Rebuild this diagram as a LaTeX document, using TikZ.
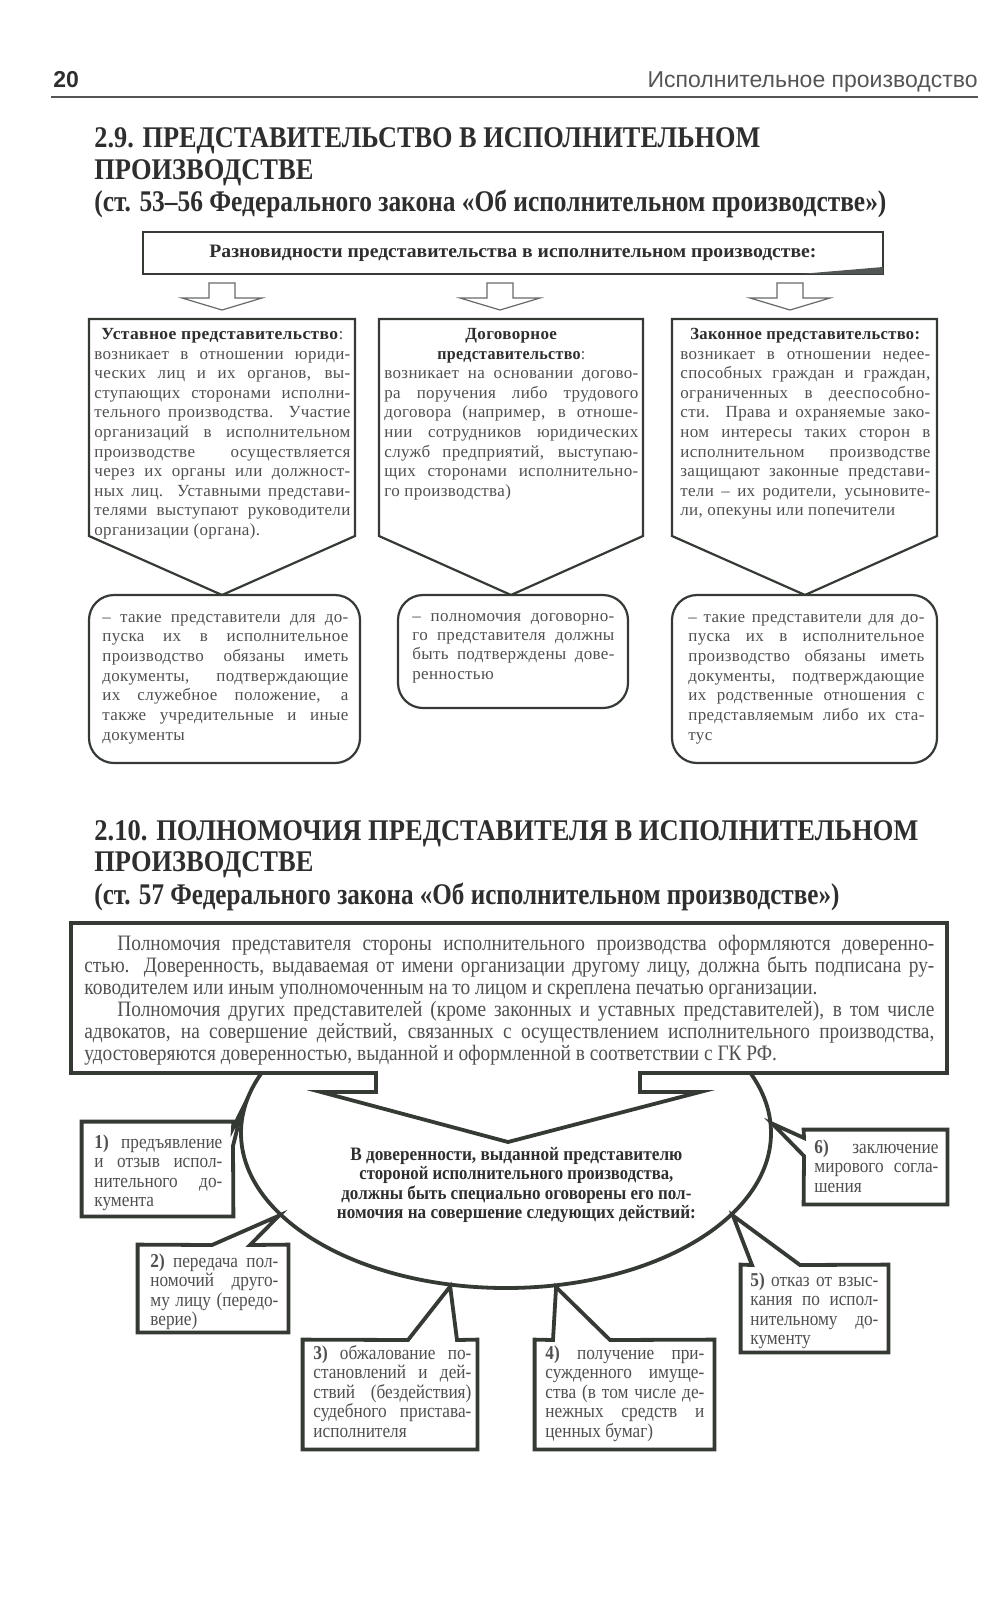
\documentclass[tikz,border=0pt]{standalone}
\usepackage{fontspec}
\usepackage{graphicx}
\setmainfont{Liberation Serif}
\setsansfont{Liberation Sans}
\newfontfamily\condfont[FakeStretch=0.82]{Liberation Serif}
\newfontfamily\lowfont[FakeStretch=0.88]{Liberation Serif}
\newfontfamily\bodyfont[LetterSpace=2]{Liberation Serif}
\usetikzlibrary{shapes.geometric}
\definecolor{lc}{HTML}{353A35}
\definecolor{tc}{HTML}{2E2E2E}
\definecolor{bc}{HTML}{505050}
\definecolor{hc}{HTML}{555555}
\newdimen\lw
\newcommand\J[1]{\hbox to\lw{#1}}
\newcommand\N[1]{\hbox{#1}}
\newcommand\C[1]{\hbox to\lw{\hfil#1\hfil}}
\newcommand\I[1]{\hbox to\lw{\hskip16.5pt\relax#1}}
\newcommand\fitw[2]{\resizebox{#1}{\height}{#2}}
\newcommand\tstack[3]{\vtop{\hsize=#1\relax\lw=#1\relax\baselineskip=#2\relax\lineskiplimit=-30pt\relax#3}}
\tikzset{
  thinbox/.style={draw=lc, line width=1.1pt, fill=white, line join=miter},
  thickbox/.style={draw=lc, line width=1.9pt, fill=white, line join=miter},
  txt/.style={inner sep=0pt, anchor=base west, text=bc},
  uptext/.style={txt, font=\bodyfont\fontsize{8.5}{9.8}\selectfont},
  lowtext/.style={txt, font=\lowfont\fontsize{9.8}{9.75}\selectfont},
  titletext/.style={txt, text=tc, font=\bfseries\fontsize{15}{15}\selectfont},
  blockarrow/.style={draw=lc!75, line width=0.6pt, fill=white},
}
\begin{document}
\begin{tikzpicture}[x=0.5pt,y=-0.5pt]
\useasboundingbox (0,0) rectangle (1000,1600);
\fill[white] (0,0) rectangle (1000,1600);

% running head
\node[inner sep=0, anchor=base west, text=tc, font=\sffamily\bfseries\fontsize{11.5}{12}\selectfont] (pnum) at (53,88) {20};
\node[inner sep=0, anchor=base east, text=hc, font=\sffamily\fontsize{11.5}{12}\selectfont] (runhead) at (978,88) {Исполнительное производство};
\draw[hc, line width=0.7pt] (51,97) -- (978,97);

% title 2.9
\node[titletext] (t1a) at (94,148) {\fitw{333pt}{2.9. ПРЕДСТАВИТЕЛЬСТВО В ИСПОЛНИТЕЛЬНОМ}};
\node[titletext] (t1b) at (94,179) {\fitw{109.5pt}{ПРОИЗВОДСТВЕ}};
\node[titletext] (t1c) at (94,211) {\fitw{396pt}{(ст. 53–56 Федерального закона «Об исполнительном производстве»)}};

% kinds box
\node[thinbox, minimum width=370pt, minimum height=21pt, inner sep=0, text=tc, font=\bfseries\fontsize{9.5}{10}\selectfont] (kinds) at (513,253) {\fitw{303.5pt}{Разновидности представительства в исполнительном производстве:}};
\fill[lc!85] (800,274) -- (883,267) -- (883,274) -- cycle;

\foreach \cx in {222,500,790}
  \draw[blockarrow] (\cx-13,283) -- (\cx+13,283) -- (\cx+13,298) -- (\cx+40,298) -- (\cx,310) -- (\cx-40,298) -- (\cx-13,298) -- cycle;

% pentagons
\draw[thinbox] (89,319) -- (355,319) -- (355,536) -- (222,595) -- (89,536) -- cycle;
\draw[thinbox] (379,319) -- (643,319) -- (643,536) -- (511,595) -- (379,536) -- cycle;
\draw[thinbox] (672,319) -- (937,319) -- (937,536) -- (805,595) -- (672,536) -- cycle;

\node[uptext] (p1) at (94,339.5) {\tstack{128pt}{9.8pt}{%
\C{\fitw{121pt}{\textcolor{tc}{\textbf{Уставное представительство}}:}}
\J{возникает в отношении юриди-}
\J{ческих лиц и их органов, вы-}
\J{ступающих сторонами исполни-}
\J{тельного производства. Участие}
\J{организаций в исполнительном}
\J{производстве осуществляется}
\J{через их органы или должност-}
\J{ных лиц. Уставными представи-}
\J{телями выступают руководители}
\N{организации (органа).}}};

\node[uptext] (p2) at (384,339.5) {\tstack{127pt}{9.8pt}{%
\C{\fitw{46pt}{\textcolor{tc}{\textbf{Договорное}}}}
\C{\fitw{74pt}{\textcolor{tc}{\textbf{представительство}}:}}
\J{возникает на основании догово-}
\J{ра поручения либо трудового}
\J{договора (например, в отноше-}
\J{нии сотрудников юридических}
\J{служб предприятий, выступаю-}
\J{щих сторонами исполнительно-}
\N{го производства)}}};

\node[uptext] (p3) at (680,339.5) {\tstack{125pt}{9.8pt}{%
\C{\fitw{115pt}{\textcolor{tc}{\textbf{Законное представительство:}}}}
\J{возникает в отношении недее-}
\J{способных граждан и граждан,}
\J{ограниченных в дееспособно-}
\J{сти. Права и охраняемые зако-}
\J{ном интересы таких сторон в}
\J{исполнительном производстве}
\J{защищают законные представи-}
\J{тели – их родители, усыновите-}
\N{ли, опекуны или попечители}}};

% rounded boxes
\node[thinbox, rounded corners=12.5pt, minimum width=135.5pt, minimum height=84pt, inner sep=0] (r1) at (224.5,679) {};
\node[thinbox, rounded corners=12.5pt, minimum width=115pt, minimum height=56.5pt, inner sep=0] (r2) at (513,651.5) {};
\node[thinbox, rounded corners=12.5pt, minimum width=132.5pt, minimum height=84pt, inner sep=0] (r3) at (804.5,679) {};

\node[uptext] (r1t) at (102,622) {\tstack{123pt}{9.85pt}{%
\J{– такие представители для до-}
\J{пуска их в исполнительное}
\J{производство обязаны иметь}
\J{документы, подтверждающие}
\J{их служебное положение, а}
\J{также учредительные и иные}
\N{документы}}};

\node[uptext] (r2t) at (412,621) {\tstack{101pt}{9.7pt}{%
\J{– полномочия договорно-}
\J{го представителя должны}
\J{быть подтверждены дове-}
\N{ренностью}}};

\node[uptext] (r3t) at (688,622) {\tstack{118pt}{9.85pt}{%
\J{– такие представители для до-}
\J{пуска их в исполнительное}
\J{производство обязаны иметь}
\J{документы, подтверждающие}
\J{их родственные отношения с}
\J{представляемым либо их ста-}
\N{тус}}};

% title 2.10
\node[titletext] (t2a) at (94,840) {\fitw{412pt}{2.10. ПОЛНОМОЧИЯ ПРЕДСТАВИТЕЛЯ В ИСПОЛНИТЕЛЬНОМ}};
\node[titletext] (t2b) at (94,871) {\fitw{109.5pt}{ПРОИЗВОДСТВЕ}};
\node[titletext] (t2c) at (94,904) {\fitw{372.5pt}{(ст. 57 Федерального закона «Об исполнительном производстве»)}};

% oval
\node[thickbox, ellipse, minimum width=265pt, minimum height=155pt, inner sep=0] (oval) at (506,1133) {};

% big box with down-arrow callout
\draw[thickbox] (71,923) -- (947,923) -- (947,1073) -- (640,1073) -- (640,1092) -- (700,1092) -- (508,1142) -- (321,1092) -- (376,1092) -- (376,1073) -- (71,1073) -- cycle;
\node[txt, font=\lowfont\fontsize{11}{11}\selectfont] (bigtext) at (84,950) {\tstack{425pt}{11pt}{%
\I{Полномочия представителя стороны исполнительного производства оформляются доверенно-}
\J{стью. Доверенность, выдаваемая от имени организации другому лицу, должна быть подписана ру-}
\N{ководителем или иным уполномоченным на то лицом и скреплена печатью организации.}
\I{Полномочия других представителей (кроме законных и уставных представителей), в том числе}
\J{адвокатов, на совершение действий, связанных с осуществлением исполнительного производства,}
\N{удостоверяются доверенностью, выданной и оформленной в соответствии с ГК РФ.}}};

\node[txt, text=tc, font=\condfont\bfseries\fontsize{9.5}{9.75}\selectfont] (ovaltext) at (336,1160) {\tstack{180pt}{9.75pt}{%
\C{\fitw{166pt}{В доверенности, выданной представителю}}
\C{\fitw{157pt}{стороной исполнительного производства,}}
\C{\fitw{175pt}{должны быть специально оговорены его пол-}}
\C{\fitw{179.5pt}{номочия на совершение следующих действий:}}}};

% callout boxes
\node[minimum width=75.5pt, minimum height=47pt, inner sep=0] (b1) at (157.5,1169) {};
\node[minimum width=71.5pt, minimum height=37pt, inner sep=0] (b6) at (875.5,1167) {};
\node[minimum width=75pt, minimum height=43.5pt, inner sep=0] (b2) at (213,1288.5) {};
\node[minimum width=87pt, minimum height=54.5pt, inner sep=0] (b3) at (390,1394.5) {};
\node[minimum width=89.5pt, minimum height=54.5pt, inner sep=0] (b4) at (624.5,1394.5) {};
\node[minimum width=73.5pt, minimum height=43.5pt, inner sep=0] (b5) at (814.5,1308.5) {};

\draw[thickbox] (b1.north west) -- (b1.north east) -- (233,1128) -- (oval.175) -- (233,1146) -- (b1.south east) -- (b1.south west) -- cycle;
\draw[thickbox] (b6.north west) -- (b6.north east) -- (b6.south east) -- (b6.south west) -- (804,1156) -- (oval.2) -- (804,1138) -- cycle;
\draw[thickbox] (b2.north west) -- (212,1245) -- (oval.200) -- (250,1245) -- (b2.north east) -- (b2.south east) -- (b2.south west) -- cycle;
\draw[thickbox] (b3.north west) -- (408,1340) -- (oval.250) -- (457,1340) -- (b3.north east) -- (b3.south east) -- (b3.south west) -- cycle;
\draw[thickbox] (b4.north west) -- (553,1340) -- (oval.288) -- (610,1340) -- (b4.north east) -- (b4.south east) -- (b4.south west) -- cycle;
\draw[thickbox] (b5.north west) -- (752,1265) -- (oval.340) -- (800,1265) -- (b5.north east) -- (b5.south east) -- (b5.south west) -- cycle;

\node[lowtext] (b1t) at (94,1148) {\tstack{64pt}{9.75pt}{%
\J{\textbf{1)} предъявление}
\J{и отзыв испол-}
\J{нительного до-}
\N{кумента}}};
\node[lowtext] (b6t) at (814,1153) {\tstack{62pt}{9.75pt}{%
\J{\textbf{6)} заключение}
\J{мирового согла-}
\N{шения}}};
\node[lowtext] (b2t) at (150,1267) {\tstack{64pt}{9.75pt}{%
\J{\textbf{2)} передача пол-}
\J{номочий друго-}
\J{му лицу (передо-}
\N{верие)}}};
\node[lowtext] (b3t) at (313,1359) {\tstack{79pt}{9.75pt}{%
\J{\textbf{3)} обжалование по-}
\J{становлений и дей-}
\J{ствий (бездействия)}
\J{судебного пристава-}
\N{исполнителя}}};
\node[lowtext] (b4t) at (545,1359) {\tstack{79.5pt}{9.75pt}{%
\J{\textbf{4)} получение при-}
\J{сужденного имуще-}
\J{ства (в том числе де-}
\J{нежных средств и}
\N{ценных бумаг)}}};
\node[lowtext] (b5t) at (750,1286) {\tstack{64pt}{9.75pt}{%
\J{\textbf{5)} отказ от взыс-}
\J{кания по испол-}
\J{нительному до-}
\N{кументу}}};
\end{tikzpicture}
\end{document}
